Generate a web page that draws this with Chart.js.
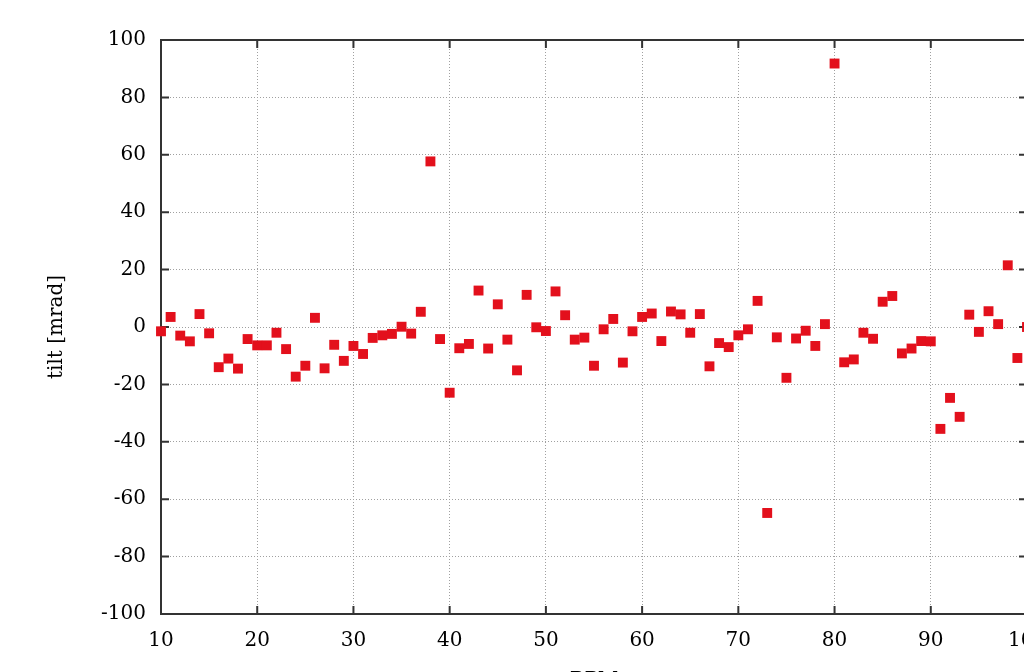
<!DOCTYPE html>
<html>
<head>
<meta charset="utf-8">
<title>tilt per BPM</title>
<script src="https://cdn.jsdelivr.net/npm/chart.js@4/dist/chart.umd.min.js"></script>
<style>
  html, body { margin: 0; padding: 0; background: #fff; overflow: hidden; }
  canvas { display: block; }
</style>
</head>
<body>
<canvas id="tiltChart" width="1040" height="700"></canvas>
<script>
// BPM number and measured tilt
const bpmNumbers = [
  10, 11, 12, 13, 14, 15, 16, 17, 18, 19,
  20, 21, 22, 23, 24, 25, 26, 27, 28, 29,
  30, 31, 32, 33, 34, 35, 36, 37, 38, 39,
  40, 41, 42, 43, 44, 45, 46, 47, 48, 49,
  50, 51, 52, 53, 54, 55, 56, 57, 58, 59,
  60, 61, 62, 63, 64, 65, 66, 67, 68, 69,
  70, 71, 72, 73, 74, 75, 76, 77, 78, 79,
  80, 81, 82, 83, 84, 85, 86, 87, 88, 89,
  90, 91, 92, 93, 94, 95, 96, 97, 98, 99,
  100
];
const tiltValues = [
  -1.5, 3.5, -3, -5, 4.5, -2.2, -14, -11, -14.5, -4.2,
  -6.4, -6.4, -2, -7.7, -17.3, -13.5, 3.2, -14.4, -6.2, -11.8,
  -6.6, -9.4, -3.8, -2.9, -2.4, 0.1, -2.3, 5.3, 57.7, -4.2,
  -22.9, -7.4, -5.9, 12.7, -7.5, 7.9, -4.4, -15.1, 11.2, -0.1,
  -1.4, 12.4, 4.1, -4.4, -3.7, -13.5, -0.8, 2.8, -12.4, -1.5,
  3.5, 4.7, -4.9, 5.4, 4.4, -2, 4.5, -13.7, -5.6, -7,
  -2.9, -0.8, 9.1, -64.8, -3.6, -17.7, -4, -1.3, -6.6, 1,
  91.8, -12.3, -11.3, -2, -4.1, 8.8, 10.8, -9.2, -7.5, -4.9,
  -5, -35.5, -24.7, -31.3, 4.3, -1.7, 5.5, 1, 21.5, -10.8,
  0
];
const xTicks = [10, 20, 30, 40, 50, 60, 70, 80, 90, 100];
const yTicks = [-100, -80, -60, -40, -20, 0, 20, 40, 60, 80, 100];

const tickFont = { family: 'DejaVu Serif', size: 20 };

// frame and inner tick marks, gnuplot style
const frameTicks = {
  id: 'frameTicks',
  beforeDatasetsDraw(chart) {
    const { ctx, chartArea: a, scales: { x, y } } = chart;
    ctx.save();
    ctx.strokeStyle = '#333';
    ctx.lineWidth = 2;
    ctx.beginPath();
    xTicks.forEach(v => {
      const px = x.getPixelForValue(v);
      ctx.moveTo(px, a.bottom); ctx.lineTo(px, a.bottom - 8);
      ctx.moveTo(px, a.top); ctx.lineTo(px, a.top + 8);
    });
    yTicks.forEach(v => {
      const py = y.getPixelForValue(v);
      ctx.moveTo(a.left, py); ctx.lineTo(a.left + 8, py);
      ctx.moveTo(a.right, py); ctx.lineTo(a.right - 8, py);
    });
    ctx.stroke();
    ctx.strokeRect(a.left, a.top, a.right - a.left, a.bottom - a.top);
    ctx.restore();
  }
};

const ctx = document.getElementById('tiltChart').getContext('2d');
const tiltChart = new Chart(ctx, {
  type: 'scatter',
  data: {
    datasets: [{
      label: 'tilt',
      data: bpmNumbers.map((b, i) => ({ x: b, y: tiltValues[i] })),
      pointStyle: 'rect',
      pointRadius: 7,
      pointHoverRadius: 7,
      backgroundColor: '#e3101c',
      borderWidth: 0,
      clip: false
    }]
  },
  options: {
    responsive: false,
    animation: false,
    layout: { padding: { top: 40, right: 13, left: 0, bottom: 0 } },
    plugins: {
      legend: { display: false },
      tooltip: { enabled: false }
    },
    scales: {
      x: {
        type: 'linear',
        min: 10,
        max: 100,
        afterBuildTicks: s => { s.ticks = xTicks.map(v => ({ value: v })); },
        afterFit: s => { s.height = 86; s.paddingLeft = 0; s.paddingRight = 0; },
        grid: { color: '#a0a0a0', lineWidth: 1, drawTicks: false },
        border: { display: false, dash: [1, 2] },
        ticks: { padding: 15, color: '#000', font: tickFont, maxRotation: 0 },
        title: { display: true, text: 'BPM', color: '#000', font: tickFont, padding: { top: 0, bottom: 7 } }
      },
      y: {
        min: -100,
        max: 100,
        afterBuildTicks: s => { s.ticks = yTicks.map(v => ({ value: v })); },
        afterFit: s => { s.width = 161; s.paddingTop = 0; s.paddingBottom = 0; },
        grid: { color: '#a0a0a0', lineWidth: 1, drawTicks: false },
        border: { display: false, dash: [1, 2] },
        ticks: { padding: 15, color: '#000', font: tickFont },
        title: { display: true, text: 'tilt [mrad]', color: '#000', font: tickFont, padding: { top: 45, bottom: 0 } }
      }
    }
  },
  plugins: [frameTicks]
});
</script>
</body>
</html>
